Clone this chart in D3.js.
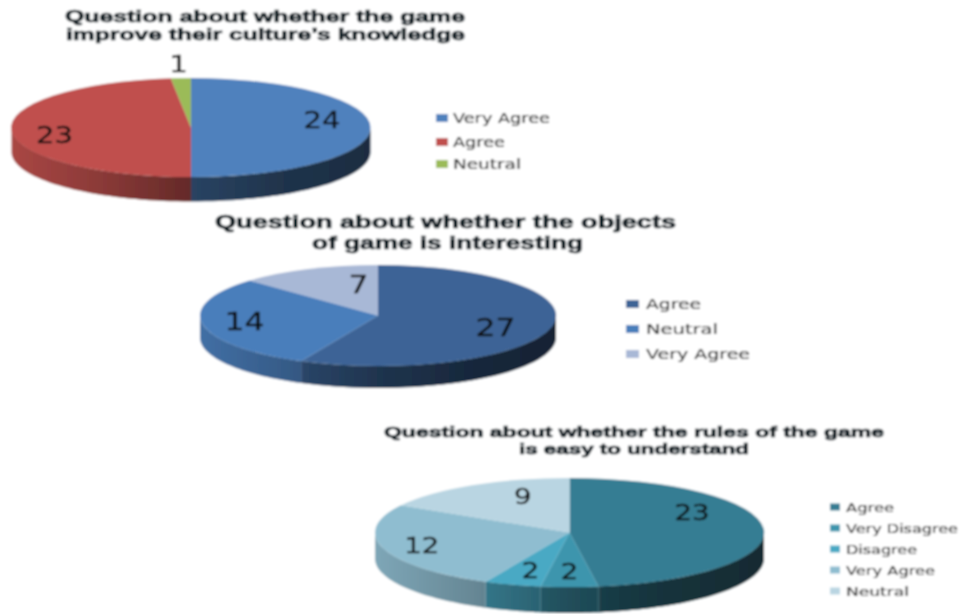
<!DOCTYPE html>
<html><head><meta charset="utf-8">
<script src="https://cdn.jsdelivr.net/npm/d3@7"></script>
<style>html,body{margin:0;background:#fff}svg{display:block}</style></head>
<body><svg id="c" width="960" height="614"></svg>
<script>
const cultureCategories = ["Very Agree","Agree","Neutral"];
const cultureValues = [24,23,1];
const cultureColors = ["#4f81bd","#c0504d","#9bbb59"];
const cultureTitle = ["Question about whether the game","improve their culture’s knowledge"];

const objectsCategories = ["Agree","Neutral","Very Agree"];
const objectsValues = [27,14,7];
const objectsColors = ["#3c6496","#4a7ebb","#a8b8d6"];
const objectsTitle = ["Question about whether the objects","of game is interesting"];

const rulesCategories = ["Agree","Very Disagree","Disagree","Very Agree","Neutral"];
const rulesValues = [23,2,2,12,9];
const rulesColors = ["#357d93","#3e95ad","#4aa9c4","#8fbdd0","#b9d5e2"];
const rulesTitle = ["Question about whether the rules of the game","is easy to understand"];

const panels = [
 {cats:cultureCategories, vals:cultureValues, cols:cultureColors, title:cultureTitle,
  cx:191, cy:127.5, rx:179.5, ry:49.5, depth:24.5,
  titleBoxes:[[65,465,16],[66,465,34.5]], titleSize:16,
  labelAt:[[.73,-.15],[-.76,.15],[-.07,-1.28]], labelSize:23, digitW:18.5,
  legend:{sx:436,sw:12,sh:8,tx:453,ys:[118,142,164],ends:[550,505,521],size:13.5}},
 {cats:objectsCategories, vals:objectsValues, cols:objectsColors, title:objectsTitle,
  cx:378, cy:315.5, rx:178, ry:50.5, depth:22,
  titleBoxes:[[215,676,222],[312,583,243]], titleSize:18,
  labelAt:[[.66,.25],[-.75,.13],[-.11,-.6]], labelSize:24, digitW:20,
  legend:{sx:626,sw:13,sh:8,tx:646,ys:[304,329,354],ends:[701,718,750],size:14}},
 {cats:rulesCategories, vals:rulesValues, cols:rulesColors, title:rulesTitle,
  cx:569.5, cy:532.5, rx:194.5, ry:54.5, depth:26,
  titleBoxes:[[384,884,432],[519,749,449]], titleSize:14.5,
  labelAt:[[.63,-.36],[0,.72],[-.2,.7],[-.76,.25],[-.24,-.65]], labelSize:21, digitW:17.5,
  legend:{sx:830,sw:10,sh:7,tx:846,ys:[507,528,549,570,591],ends:[894,958,917,935,909],size:12.5}}
];

const svg = d3.select("#c");
const defs = svg.append("defs");
defs.append("filter").attr("id","soft")
  .attr("filterUnits","userSpaceOnUse").attr("x",0).attr("y",0).attr("width",960).attr("height",614)
  .append("feGaussianBlur").attr("stdDeviation",0.8);
const root = svg.append("g").attr("filter","url(#soft)");
root.append("rect").attr("width",960).attr("height",614).attr("fill","#fff");

const pie = d3.pie().sort(null);
const arc = d3.arc().innerRadius(0).outerRadius(1);
// the tilted 3D view shifts the apparent slice angles
const tilt = a => a - (8*Math.PI/180)*Math.sin(a);

panels.forEach((p,pi)=>{
  const g = root.append("g");
  const x = d3.scaleLinear().domain([-1,1]).range([p.cx-p.rx,p.cx+p.rx]);
  const y = d3.scaleLinear().domain([-1,1]).range([p.cy-p.ry,p.cy+p.ry]);
  const arcs = pie(p.vals).map(d=>({...d,startAngle:tilt(d.startAngle),endAngle:tilt(d.endAngle)}));

  const grad = defs.append("linearGradient").attr("id","shade"+pi)
    .attr("gradientUnits","userSpaceOnUse")
    .attr("x1",x(-1)).attr("x2",x(1)).attr("y1",0).attr("y2",0);
  [[0,.12],[.25,.28],[.5,.48],[.75,.6],[1,.66]].forEach(([o,a])=>
    grad.append("stop").attr("offset",o).attr("stop-color","#000").attr("stop-opacity",a));

  const wall = d3.area()
    .x(a=>x(Math.sin(a)))
    .y0(a=>y(-Math.cos(a)))
    .y1(a=>y(-Math.cos(a))+p.depth);
  arcs.forEach((d,i)=>{
    const a0=Math.max(d.startAngle,Math.PI/2), a1=Math.min(d.endAngle,Math.PI*1.5);
    if(a1<=a0) return;
    const pts=d3.range(0,41).map(k=>a0+(a1-a0)*k/40);
    g.append("path").attr("d",wall(pts)).attr("fill",p.cols[i]);
    g.append("path").attr("d",wall(pts)).attr("fill",`url(#shade${pi})`);
  });

  const top = g.append("g").attr("transform",`translate(${p.cx},${p.cy}) scale(${p.rx},${p.ry})`);
  top.selectAll("path").data(arcs).join("path")
    .attr("d",arc).attr("fill",(d,i)=>p.cols[i]);

  g.selectAll("text.val").data(arcs).join("text").attr("class","val")
    .attr("x",(d,i)=>x(p.labelAt[i][0])).attr("y",(d,i)=>y(p.labelAt[i][1]))
    .attr("text-anchor","middle").attr("dominant-baseline","central")
    .attr("textLength",d=>String(d.value).length*p.digitW).attr("lengthAdjust","spacingAndGlyphs")
    .attr("font-family","DejaVu Sans").attr("font-size",p.labelSize).attr("fill","#111")
    .attr("stroke","#111").attr("stroke-width",0.35)
    .text(d=>d.value);

  p.title.forEach((t,i)=>{
    const [a,b,yy]=p.titleBoxes[i];
    g.append("text").attr("x",a).attr("y",yy).attr("dominant-baseline","central")
      .attr("textLength",b-a).attr("lengthAdjust","spacingAndGlyphs")
      .attr("font-family","Liberation Sans").attr("font-weight",700).attr("font-size",p.titleSize)
      .attr("fill","#101c24").attr("stroke","#101c24").attr("stroke-width",0.7).text(t);
  });

  const L=p.legend;
  p.cats.forEach((c,i)=>{
    g.append("rect").attr("x",L.sx).attr("y",L.ys[i]-L.sh/2).attr("width",L.sw).attr("height",L.sh).attr("fill",p.cols[i]);
    g.append("text").attr("x",L.tx).attr("y",L.ys[i]).attr("dominant-baseline","central")
      .attr("textLength",L.ends[i]-L.tx).attr("lengthAdjust","spacingAndGlyphs")
      .attr("font-family","DejaVu Sans").attr("font-size",L.size).attr("fill","#2a2a2a")
      .attr("stroke","#2a2a2a").attr("stroke-width",0.2).text(c);
  });
});
</script></body></html>
